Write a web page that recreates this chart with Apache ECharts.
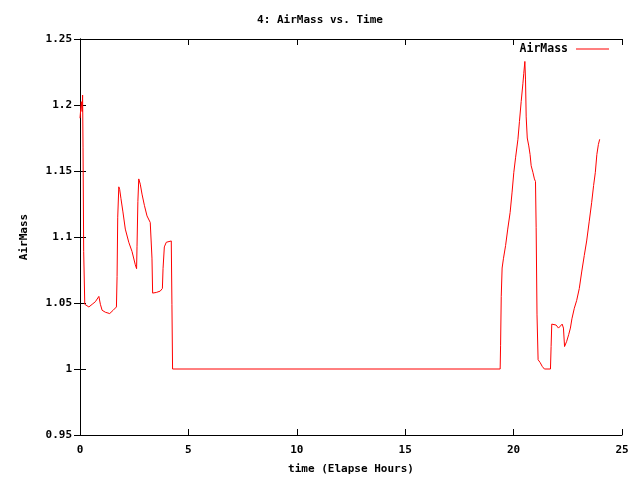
<!DOCTYPE html>
<html>
<head>
<meta charset="utf-8">
<script src="https://cdn.jsdelivr.net/npm/echarts@6/dist/echarts.min.js"></script>
<style>
  html, body { margin: 0; padding: 0; background: #fff; }
  #chart { width: 640px; height: 480px; }
</style>
</head>
<body>
<div id="chart"></div>
<script>
// elapsed hours and airmass
const hours = [
  0, 0.06, 0.1, 0.12, 0.14, 0.17, 0.22, 0.3, 0.41, 0.56, 0.71, 0.87, 0.94, 1.02,
  1.17, 1.37, 1.53, 1.68, 1.71, 1.74, 1.79, 1.83, 1.89, 1.98, 2.09, 2.25, 2.4,
  2.55, 2.61, 2.63, 2.67, 2.71, 2.78, 2.86, 2.97, 3.09, 3.24, 3.32, 3.35, 3.52,
  3.7, 3.8, 3.83, 3.89, 3.98, 4.21, 4.24, 4.27,
  19.38, 19.4, 19.43, 19.47, 19.53, 19.63, 19.73, 19.84, 19.93, 20.01, 20.09,
  20.2, 20.27, 20.35, 20.43, 20.47, 20.52, 20.55, 20.58, 20.63, 20.7, 20.76,
  20.81, 20.89, 20.96, 21.01, 21.04, 21.08, 21.13, 21.22, 21.32, 21.42, 21.7,
  21.73, 21.76, 21.96, 22.07, 22.24, 22.3, 22.35, 22.37, 22.45, 22.54, 22.62,
  22.69, 22.8, 22.91, 23.03, 23.14, 23.26, 23.37, 23.49, 23.6, 23.69, 23.77,
  23.84, 23.91, 23.97
];
const airMass = [
  1.19, 1.2025, 1.195, 1.2075, 1.1675, 1.089, 1.049, 1.048, 1.047, 1.049, 1.051,
  1.055, 1.049, 1.0445, 1.043, 1.042, 1.0445, 1.047, 1.07, 1.115, 1.138, 1.136,
  1.129, 1.119, 1.106, 1.096, 1.089, 1.079, 1.076, 1.093, 1.127, 1.144, 1.14,
  1.1325, 1.124, 1.116, 1.111, 1.084, 1.0575, 1.058, 1.059, 1.061, 1.076,
  1.0925, 1.096, 1.097, 1.049, 1.0,
  1.0, 1.018, 1.055, 1.0765, 1.0835, 1.0935, 1.106, 1.1186, 1.134, 1.149, 1.16,
  1.174, 1.1876, 1.2027, 1.2165, 1.224, 1.233, 1.219, 1.191, 1.175, 1.169,
  1.1625, 1.154, 1.149, 1.144, 1.142, 1.107, 1.041, 1.007, 1.005, 1.002, 1.0,
  1.0, 1.017, 1.034, 1.0333, 1.031, 1.034, 1.031, 1.017, 1.016, 1.021, 1.026,
  1.031, 1.038, 1.046, 1.052, 1.061, 1.0735, 1.086, 1.097, 1.112, 1.126, 1.139,
  1.149, 1.1625, 1.17, 1.174
];

const FONT = "DejaVu Sans Mono";
const RED = "#ff0000";

const chart = echarts.init(document.getElementById("chart"), null, { renderer: "canvas" });

const textStyle = { fontFamily: FONT, fontSize: 11, fontWeight: "bold", color: "#000" };
const tickStyle = { show: true, inside: true, length: 6, lineStyle: { color: "#000" } };
const lineStyle = { lineStyle: { color: "#000", width: 1 } };

chart.setOption({
  animation: false,
  backgroundColor: "#fff",
  title: {
    text: "4: AirMass vs. Time",
    left: "center",
    top: 10,
    textStyle: textStyle
  },
  legend: {
    right: 26,
    top: 38,
    align: "right",
    icon: "rect",
    itemWidth: 33,
    itemHeight: 1,
    itemStyle: { color: RED },
    textStyle: Object.assign({}, textStyle, { fontSize: 11.5, padding: [0, 3, 0, 0] }),
    data: ["AirMass"]
  },
  grid: { left: 80, right: 18, top: 39, bottom: 41 },
  xAxis: [{
    type: "value",
    min: 0, max: 25, interval: 5,
    name: "time (Elapse Hours)",
    nameLocation: "middle",
    nameGap: 29,
    nameTextStyle: textStyle,
    axisLine: lineStyle,
    axisTick: tickStyle,
    axisLabel: Object.assign({ margin: 10 }, textStyle),
    splitLine: { show: false }
  }, {
    type: "value", position: "top",
    min: 0, max: 25, interval: 5,
    axisLine: lineStyle,
    axisTick: tickStyle,
    axisLabel: { show: false },
    splitLine: { show: false }
  }],
  yAxis: [{
    type: "value",
    min: 0.95, max: 1.25, interval: 0.05,
    name: "AirMass",
    nameLocation: "middle",
    nameGap: 50,
    nameRotate: 90,
    nameTextStyle: textStyle,
    axisLine: lineStyle,
    axisTick: tickStyle,
    axisLabel: Object.assign({
      margin: 8,
      formatter: v => String(Math.round(v * 100) / 100)
    }, textStyle),
    splitLine: { show: false }
  }, {
    type: "value", position: "right",
    min: 0.95, max: 1.25, interval: 0.05,
    axisLine: lineStyle,
    axisTick: tickStyle,
    axisLabel: { show: false },
    splitLine: { show: false }
  }],
  series: [{
    name: "AirMass",
    type: "line",
    data: hours.map((h, i) => [h, airMass[i]]),
    showSymbol: false,
    symbol: "none",
    color: RED,
    lineStyle: { color: RED, width: 1 }
  }]
});
</script>
</body>
</html>
